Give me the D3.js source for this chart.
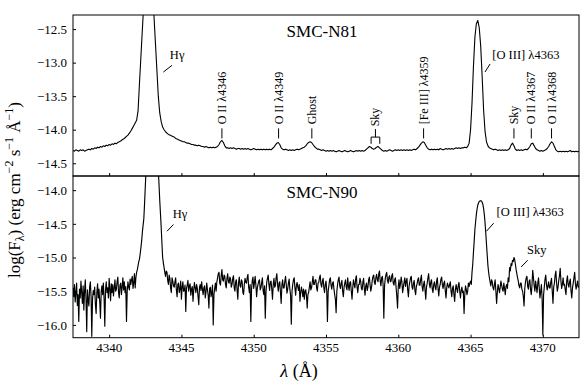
<!DOCTYPE html>
<html>
<head>
<meta charset="utf-8">
<script src="https://cdn.jsdelivr.net/npm/d3@7"></script>
<style>
  body { margin: 0; background: #fff; }
  text { font-family: "Liberation Serif", "DejaVu Serif", serif; fill: #000; }
</style>
</head>
<body>
<svg id="chart" width="583" height="382"></svg>
<script>
// wavelength grids (Angstrom)
var waveStart = 4337.5;
var n81Step = 0.1;
var n90Step = 0.05;

// SMC-N81, log flux, one row per Angstrom
var n81Flux = [
  -14.31,-14.32,-14.30,-14.31,-14.32,-14.30,-14.31,-14.30,-14.32,-14.31,
  -14.30,-14.29,-14.30,-14.28,-14.29,-14.27,-14.28,-14.26,-14.27,-14.25,
  -14.26,-14.24,-14.25,-14.23,-14.24,-14.22,-14.23,-14.21,-14.22,-14.20,
  -14.21,-14.19,-14.18,-14.17,-14.15,-14.14,-14.12,-14.10,-14.08,-14.05,
  -14.02,-13.98,-13.94,-13.90,-13.86,-13.72,-13.30,-12.90,-12.50,-12.10,
  -11.95,-11.80,-11.75,-11.80,-11.95,-12.05,-12.30,-12.70,-13.10,-13.50,
  -13.75,-13.88,-13.96,-14.00,-14.03,-14.05,-14.07,-14.08,-14.09,-14.10,
  -14.11,-14.13,-14.14,-14.15,-14.16,-14.17,-14.18,-14.18,-14.19,-14.20,
  -14.20,-14.21,-14.22,-14.22,-14.23,-14.23,-14.24,-14.23,-14.24,-14.25,
  -14.25,-14.26,-14.25,-14.26,-14.27,-14.26,-14.27,-14.26,-14.27,-14.26,
  -14.25,-14.22,-14.18,-14.16,-14.19,-14.24,-14.27,-14.27,-14.28,-14.27,
  -14.28,-14.27,-14.28,-14.29,-14.28,-14.28,-14.29,-14.28,-14.29,-14.28,
  -14.29,-14.28,-14.29,-14.30,-14.29,-14.28,-14.29,-14.30,-14.29,-14.30,
  -14.29,-14.30,-14.29,-14.30,-14.29,-14.30,-14.29,-14.30,-14.28,-14.26,
  -14.23,-14.20,-14.19,-14.22,-14.27,-14.29,-14.30,-14.29,-14.30,-14.31,
  -14.30,-14.31,-14.30,-14.31,-14.30,-14.29,-14.30,-14.29,-14.28,-14.27,
  -14.26,-14.24,-14.21,-14.19,-14.18,-14.19,-14.22,-14.25,-14.27,-14.29,
  -14.29,-14.30,-14.31,-14.30,-14.31,-14.32,-14.31,-14.32,-14.31,-14.32,
  -14.31,-14.32,-14.33,-14.32,-14.31,-14.32,-14.33,-14.32,-14.31,-14.32,
  -14.33,-14.32,-14.31,-14.32,-14.33,-14.32,-14.31,-14.32,-14.31,-14.32,
  -14.31,-14.32,-14.31,-14.29,-14.27,-14.25,-14.26,-14.28,-14.29,-14.28,
  -14.26,-14.25,-14.27,-14.29,-14.31,-14.32,-14.31,-14.32,-14.31,-14.30,
  -14.31,-14.32,-14.31,-14.30,-14.31,-14.30,-14.31,-14.30,-14.31,-14.30,
  -14.31,-14.30,-14.31,-14.30,-14.31,-14.30,-14.29,-14.30,-14.28,-14.26,
  -14.23,-14.20,-14.18,-14.19,-14.23,-14.27,-14.29,-14.30,-14.29,-14.30,
  -14.29,-14.30,-14.29,-14.30,-14.28,-14.29,-14.30,-14.29,-14.28,-14.29,
  -14.28,-14.29,-14.28,-14.29,-14.28,-14.27,-14.28,-14.27,-14.28,-14.27,
  -14.27,-14.26,-14.27,-14.25,-14.20,-14.00,-13.60,-13.05,-12.62,-12.42,
  -12.37,-12.48,-12.75,-13.20,-13.70,-14.02,-14.18,-14.24,-14.27,-14.28,
  -14.29,-14.30,-14.29,-14.30,-14.31,-14.30,-14.31,-14.30,-14.31,-14.30,
  -14.31,-14.30,-14.28,-14.23,-14.20,-14.24,-14.29,-14.31,-14.30,-14.31,
  -14.30,-14.31,-14.30,-14.29,-14.30,-14.28,-14.25,-14.21,-14.20,-14.24,
  -14.28,-14.30,-14.31,-14.32,-14.31,-14.32,-14.31,-14.30,-14.28,-14.25,
  -14.21,-14.18,-14.20,-14.25,-14.30,-14.32,-14.33,-14.32,-14.33,-14.32,
  -14.33,-14.32,-14.33,-14.32,-14.31,-14.33,-14.32,-14.33,-14.32,-14.33,-14.32
];

// SMC-N90, log flux, one row per Angstrom (0.05 A steps)
var n90Flux = [
  -15.45,-15.58,-15.40,-15.66,-15.52,-15.38,-15.71,-15.55,-15.95,-15.47,-15.60,-15.35,-15.52,-15.68,-15.42,-15.78,-15.50,-15.33,-15.62,-16.10,
  -15.48,-15.63,-15.72,-15.44,-15.36,-15.58,-16.17,-15.62,-15.49,-15.55,-15.44,-15.70,-15.83,-15.52,-15.39,-15.60,-15.47,-15.66,-15.90,-15.51,
  -15.42,-15.55,-15.38,-15.61,-16.02,-15.48,-15.36,-15.52,-15.45,-15.60,-15.31,-15.47,-15.64,-15.39,-15.52,-15.40,-15.57,-15.46,-15.33,-15.50,
  -15.47,-15.36,-15.29,-15.52,-15.60,-15.41,-15.38,-15.55,-15.44,-15.30,-15.48,-15.36,-15.52,-15.43,-15.95,-15.50,-15.36,-15.44,-15.48,-15.32,
  -15.40,-15.33,-15.28,-15.46,-15.38,-15.24,-15.45,-15.30,-15.22,-15.18,-15.12,-15.06,-15.02,-14.94,-14.85,-14.75,-14.62,-14.52,-14.42,-14.20,
  -13.95,-13.72,-13.50,-13.33,-13.20,-13.06,-12.95,-12.86,-12.80,-12.77,-12.75,-12.77,-12.80,-12.86,-12.95,-13.08,-13.25,-13.45,-13.70,-13.92,
  -14.15,-14.35,-14.55,-14.78,-15.00,-15.08,-15.15,-15.22,-15.28,-15.20,-15.22,-15.34,-15.40,-15.26,-15.31,-15.45,-15.52,-15.30,-15.35,-15.42,
  -15.44,-15.36,-15.30,-15.48,-15.58,-15.40,-15.38,-15.52,-15.47,-15.35,-15.62,-15.44,-15.36,-15.50,-15.49,-15.41,-15.80,-15.46,-15.41,-15.34,
  -15.50,-15.42,-15.39,-15.56,-15.47,-15.43,-15.65,-15.48,-15.37,-15.45,-15.52,-15.40,-15.46,-15.58,-15.70,-15.44,-15.40,-15.49,-15.36,-15.47,
  -15.55,-15.45,-15.42,-15.60,-15.51,-15.38,-15.48,-15.56,-15.75,-15.46,-15.44,-15.58,-15.52,-15.41,-16.00,-15.55,-15.46,-15.38,-15.50,-15.36,
  -15.30,-15.24,-15.22,-15.38,-15.41,-15.27,-15.18,-15.33,-15.35,-15.26,-15.28,-15.40,-15.45,-15.31,-15.24,-15.36,-15.38,-15.29,-15.32,-15.44,
  -15.40,-15.31,-15.27,-15.45,-15.50,-15.36,-15.33,-15.48,-15.62,-15.38,-15.29,-15.42,-15.44,-15.33,-15.36,-15.52,-15.55,-15.40,-15.31,-15.37,
  -15.38,-15.30,-15.25,-15.44,-15.52,-15.40,-15.95,-15.47,-15.34,-15.29,-15.46,-15.38,-15.28,-15.41,-15.58,-15.45,-15.40,-15.35,-15.33,-15.48,
  -15.45,-15.37,-15.30,-15.49,-15.55,-15.42,-15.90,-15.51,-15.37,-15.31,-15.26,-15.40,-15.49,-15.36,-15.35,-15.47,-15.62,-15.40,-15.31,-15.44,
  -15.42,-15.30,-15.24,-15.41,-15.50,-15.38,-15.36,-15.52,-15.68,-15.40,-15.33,-15.45,-15.45,-15.36,-15.28,-15.40,-15.53,-15.47,-15.38,-15.32,
  -15.47,-15.56,-15.99,-15.50,-15.40,-15.33,-15.30,-15.45,-15.56,-15.42,-15.37,-15.44,-15.49,-15.40,-15.65,-15.52,-15.44,-15.50,-15.58,-15.47,
  -15.62,-15.50,-15.48,-15.57,-15.75,-15.55,-15.52,-15.44,-15.36,-15.48,-15.45,-15.37,-15.28,-15.40,-15.40,-15.33,-15.33,-15.45,-15.50,-15.38,
  -15.37,-15.30,-15.26,-15.40,-15.44,-15.35,-15.31,-15.45,-15.52,-15.40,-15.35,-15.48,-15.95,-15.50,-15.42,-15.33,-15.30,-15.41,-15.47,-15.38,
  -15.36,-15.47,-15.55,-15.62,-15.82,-15.50,-15.40,-15.33,-15.29,-15.42,-15.46,-15.38,-15.34,-15.50,-15.58,-15.44,-15.38,-15.33,-15.44,-15.48,
  -15.30,-15.42,-15.49,-15.37,-15.36,-15.50,-15.62,-15.45,-15.33,-15.40,-15.45,-15.32,-15.27,-15.44,-15.52,-15.40,-15.40,-15.31,-15.35,-15.46,
  -15.48,-15.37,-15.31,-15.46,-15.56,-15.42,-15.38,-15.49,-15.44,-15.33,-15.29,-15.41,-15.50,-15.44,-15.34,-15.28,-15.26,-15.37,-15.40,-15.30,
  -15.25,-15.33,-15.36,-15.24,-15.20,-15.35,-15.42,-15.30,-15.28,-15.40,-15.90,-15.42,-15.31,-15.25,-15.22,-15.34,-15.38,-15.29,-15.27,-15.36,
  -15.35,-15.27,-15.24,-15.38,-15.41,-15.33,-15.30,-15.45,-15.58,-15.75,-15.43,-15.33,-15.46,-15.39,-15.29,-15.36,-15.52,-15.44,-15.37,-15.30,
  -15.43,-15.35,-15.31,-15.48,-15.58,-15.42,-15.36,-15.30,-15.28,-15.44,-15.47,-15.38,-15.34,-15.49,-15.55,-15.43,-15.39,-15.33,-15.30,-15.41,
  -15.41,-15.32,-15.26,-15.43,-15.50,-15.40,-15.35,-15.48,-15.62,-15.44,-15.38,-15.30,-15.24,-15.39,-15.45,-15.36,-15.33,-15.47,-15.52,-15.40,
  -15.36,-15.44,-15.48,-15.35,-15.30,-15.46,-15.57,-15.44,-15.40,-15.32,-15.29,-15.41,-15.46,-15.38,-15.35,-15.49,-15.60,-15.45,-15.38,-15.42,
  -15.45,-15.40,-15.36,-15.50,-15.58,-15.46,-15.42,-15.55,-15.65,-15.48,-15.40,-15.47,-15.52,-15.41,-15.37,-15.50,-15.60,-15.49,-15.44,-15.52,
  -15.50,-15.83,-15.55,-15.42,-15.47,-15.55,-15.50,-15.38,-15.43,-15.38,-15.35,-15.40,-15.22,-15.10,-14.92,-14.76,-14.58,-14.47,-14.36,-14.28,
  -14.22,-14.19,-14.17,-14.16,-14.16,-14.16,-14.18,-14.21,-14.27,-14.36,-14.48,-14.63,-14.80,-14.96,-15.12,-15.22,-15.30,-15.36,-15.42,-15.33,
  -15.36,-15.45,-15.48,-15.40,-15.33,-15.50,-15.68,-15.52,-15.40,-15.46,-15.52,-15.44,-15.35,-15.41,-15.47,-15.50,-15.38,-15.46,-15.55,-15.43,
  -15.40,-15.46,-15.30,-15.36,-15.15,-15.20,-15.09,-15.12,-15.04,-15.06,-15.00,-15.03,-15.10,-15.18,-15.24,-15.30,-15.35,-15.42,-15.45,-15.38,
  -15.38,-15.47,-15.50,-15.58,-15.72,-15.46,-15.36,-15.30,-15.28,-15.43,-15.47,-15.35,-15.33,-15.48,-15.55,-15.40,-15.19,-15.30,-15.42,-15.50,
  -15.35,-15.44,-15.52,-15.38,-15.30,-15.45,-15.60,-15.50,-15.40,-15.62,-16.15,-15.55,-15.44,-15.32,-15.26,-15.40,-15.48,-15.42,-15.36,-15.45,
  -15.45,-15.36,-15.31,-15.50,-15.68,-15.44,-15.38,-15.26,-15.20,-15.38,-15.50,-15.44,-15.34,-15.27,-15.16,-15.35,-15.46,-15.40,-15.30,-15.41,
  -15.40,-15.48,-15.55,-15.35,-15.27,-15.40,-15.44,-15.36,-15.32,-15.50,-15.60,-15.45,-15.38,-15.30,-15.22,-15.38,-15.47,-15.41,-15.35,-15.44,-15.42
];

var xTicks = [4340, 4345, 4350, 4355, 4360, 4365, 4370];
var n81Ticks = [-12.5, -13.0, -13.5, -14.0, -14.5];
var n90Ticks = [-14.0, -14.5, -15.0, -15.5, -16.0];

// vertical line ids above the N81 spectrum
var n81Labels = ["O II λ4346", "O II λ4349", "Ghost", "[Fe III] λ4359", "Sky", "O II λ4367", "O II λ4368"];
var n81LabelWaves = [4347.8, 4351.72, 4354.02, 4361.75, 4368.0, 4369.2, 4370.6];
var skyPair = [4358.12, 4358.72];

var svg = d3.select('#chart');
var left = 73, right = 579;
var topY = 15, midY = 176, bottomY = 337.7;

var x = d3.scaleLinear().domain([4337.5, 4372.5]).range([left, right]);
var yTop = d3.scaleLinear().domain([-14.69, -12.29]).range([midY, topY]);
var yBot = d3.scaleLinear().domain([-16.19, -13.79]).range([bottomY, midY]);

function drawPanel(name, flux, step, y, ticks, y0, y1, lw) {
    var g = svg.append('g');

    g.append('clipPath').attr('id', 'clip-' + name)
        .append('rect')
        .attr('x', left).attr('y', y0)
        .attr('width', right - left).attr('height', y1 - y0);

    var line = d3.line()
        .x(function(d, i) { return x(waveStart + i * step); })
        .y(function(d) { return y(d); });

    g.append('path')
        .datum(flux)
        .attr('clip-path', 'url(#clip-' + name + ')')
        .attr('fill', 'none')
        .attr('stroke', '#000')
        .attr('stroke-width', lw)
        .attr('stroke-linejoin', 'round')
        .attr('d', line);

    // left axis, inward ticks
    var yAxis = d3.axisLeft(y).tickValues(ticks).tickSizeInner(-3).tickSizeOuter(0)
        .tickPadding(6)
        .tickFormat(function(d) { return d3.format('.1f')(d).replace('-', '\u2212'); });
    var ya = g.append('g').attr('transform', 'translate(' + left + ',0)').call(yAxis);
    ya.attr('font-family', null);
    ya.select('.domain').remove();
    ya.selectAll('text').style('font-size', '13px');
    ya.selectAll('line').attr('stroke', '#000');

    // bottom ticks (inward)
    var xAxis = d3.axisBottom(x).tickValues(xTicks).tickSizeInner(-3).tickSizeOuter(0).tickFormat('');
    var xa = g.append('g').attr('transform', 'translate(0,' + y1 + ')').call(xAxis);
    xa.select('.domain').remove();

    g.append('rect')
        .attr('x', left).attr('y', y0)
        .attr('width', right - left).attr('height', y1 - y0)
        .attr('fill', 'none').attr('stroke', '#000').attr('stroke-width', 1);
    return g;
}

var gTop = drawPanel('n81', n81Flux, n81Step, yTop, n81Ticks, topY, midY, 1.1);
var gBot = drawPanel('n90', n90Flux, n90Step, yBot, n90Ticks, midY, bottomY, 1.15);

// x tick labels under the lower panel
svg.append('g').selectAll('text')
    .data(xTicks)
    .enter()
    .append('text')
    .attr('x', function(d) { return x(d); })
    .attr('y', 352)
    .attr('text-anchor', 'middle')
    .style('font-size', '13px')
    .text(function(d) { return d; });

// panel titles
gTop.append('text').attr('x', 322).attr('y', 37).attr('text-anchor', 'middle')
    .style('font-size', '17px').text('SMC-N81');
gBot.append('text').attr('x', 322).attr('y', 198).attr('text-anchor', 'middle')
    .style('font-size', '17px').text('SMC-N90');

// N81 vertical line labels
n81Labels.forEach(function(lab, i) {
    var lx = x(n81LabelWaves[i]);
    gTop.append('line')
        .attr('x1', lx).attr('x2', lx)
        .attr('y1', yTop(-13.98)).attr('y2', yTop(-14.13))
        .attr('stroke', '#000').attr('stroke-width', 1);
    gTop.append('text')
        .attr('transform', 'translate(' + (lx + 4) + ',' + yTop(-13.92) + ') rotate(-90)')
        .style('font-size', '12px')
        .text(lab);
});

// sky bracket
var sx0 = x(skyPair[0]), sx1 = x(skyPair[1]), sxm = (sx0 + sx1) / 2;
gTop.append('path')
    .attr('d', 'M' + sx0 + ',' + yTop(-14.21) + 'V' + yTop(-14.11) + 'H' + sx1 + 'V' + yTop(-14.21)
        + 'M' + sxm + ',' + yTop(-14.11) + 'V' + yTop(-13.99))
    .attr('fill', 'none').attr('stroke', '#000').attr('stroke-width', 1);
gTop.append('text')
    .attr('transform', 'translate(' + (sxm + 4) + ',' + yTop(-13.95) + ') rotate(-90)')
    .style('font-size', '12px')
    .text('Sky');

// slanted pointers with labels
function pointer(g, y, w0, f0, w1, f1, label, tx, ty) {
    g.append('line')
        .attr('x1', x(w0)).attr('y1', y(f0))
        .attr('x2', x(w1)).attr('y2', y(f1))
        .attr('stroke', '#000').attr('stroke-width', 1);
    g.append('text').attr('x', x(tx)).attr('y', y(ty))
        .style('font-size', '12.5px')
        .text(label);
}

pointer(gTop, yTop, 4343.75, -13.14, 4344.35, -13.04, 'H\u03b3', 4344.2, -12.95);
pointer(gTop, yTop, 4366.0, -13.14, 4366.35, -13.02, '[O III] \u03bb4363', 4366.5, -12.95);
pointer(gBot, yBot, 4344.0, -14.61, 4344.45, -14.51, 'H\u03b3', 4344.4, -14.41);
pointer(gBot, yBot, 4366.1, -14.61, 4366.6, -14.49, '[O III] \u03bb4363', 4366.8, -14.38);
pointer(gBot, yBot, 4368.5, -15.14, 4368.95, -15.04, 'Sky', 4368.9, -14.95);

// axis titles
svg.append('text')
    .attr('x', 299).attr('y', 377)
    .attr('text-anchor', 'middle')
    .style('font-size', '18px')
    .html('<tspan font-style="italic">\u03bb</tspan> (\u00c5)');

var yl = svg.append('text')
    .attr('transform', 'translate(20,190) rotate(-90)')
    .attr('text-anchor', 'middle')
    .style('font-size', '17px');
yl.append('tspan').text('log(F');
yl.append('tspan').attr('dy', 4).style('font-size', '12px').text('\u03bb');
yl.append('tspan').attr('dy', -4).text(') (erg cm');
yl.append('tspan').attr('dy', -7).style('font-size', '12px').text('\u22122');
yl.append('tspan').attr('dy', 7).text(' s');
yl.append('tspan').attr('dy', -7).style('font-size', '12px').text('\u22121');
yl.append('tspan').attr('dy', 7).text(' \u00c5');
yl.append('tspan').attr('dy', -7).style('font-size', '12px').text('\u22121');
yl.append('tspan').attr('dy', 7).text(')');
</script>
</body>
</html>
